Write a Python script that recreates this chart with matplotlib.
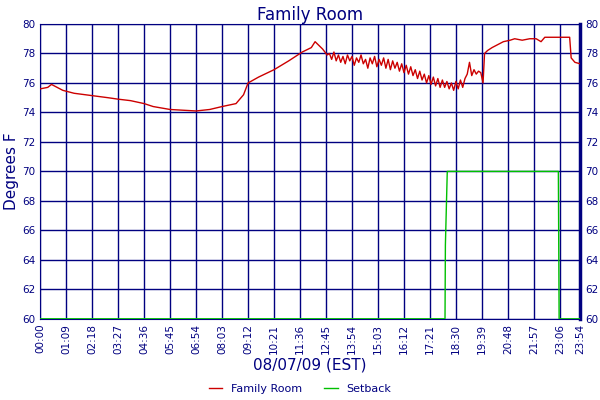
import matplotlib
matplotlib.use("Agg")
import matplotlib.pyplot as plt
import numpy as np

NAVY = "#000080"

# Family Room temperature (minutes since midnight, deg F)
room_t_start = [0, 20, 30, 45, 60, 90, 120, 150, 180, 207, 240, 276, 300, 345, 414, 450, 483,
                520, 540, 552, 580, 621, 660, 696, 720, 730, 750, 762]
room_v_start = [75.6, 75.7, 75.9, 75.7, 75.5, 75.3, 75.2, 75.1, 75.0, 74.9, 74.8, 74.6, 74.4,
                74.2, 74.1, 74.2, 74.4, 74.6, 75.2, 76.0, 76.4, 76.9, 77.5, 78.1, 78.4, 78.8,
                78.3, 77.9]
room_v_noisy = [78.0, 77.6, 78.1, 77.5, 77.9, 77.4, 77.8, 77.3, 77.9, 77.5,
                77.8, 77.2, 77.7, 77.4, 77.9, 77.3, 77.6, 77.0, 77.7, 77.3,
                77.8, 77.1, 77.6, 77.2, 77.7, 77.0, 77.6, 76.9, 77.5, 77.0,
                77.4, 76.8, 77.3, 76.7, 77.2, 76.6, 77.1, 76.5, 76.9, 76.3,
                76.8, 76.2, 76.6, 76.0, 76.5, 75.9, 76.4, 75.8, 76.3, 75.7,
                76.2, 75.7, 76.1, 75.6, 76.0, 75.5, 76.1, 75.6, 76.2, 75.7,
                76.3, 76.6, 77.4, 76.5, 76.9, 76.6, 76.8, 76.7, 76.0]
room_t_end = [1180, 1188, 1200, 1215, 1230, 1248, 1260, 1280, 1300, 1317, 1330, 1340, 1360,
              1386, 1406, 1410, 1420, 1434]
room_v_end = [78.0, 78.2, 78.4, 78.6, 78.8, 78.9, 79.0, 78.9, 79.0, 79.0, 78.8, 79.1, 79.1,
              79.1, 79.1, 77.7, 77.4, 77.3]

# Setback (minutes, deg F)
setback_t = [0, 1075, 1076, 1081, 1376, 1377, 1378, 1434]
setback_v = [60, 60, 65, 70, 70, 65, 60, 60]

room_t = room_t_start + list(range(768, 1177, 6)) + room_t_end
room_v = room_v_start + room_v_noisy + room_v_end

tick_mins = list(range(0, 1381, 69)) + [1434]
tick_labels = ["00:00", "01:09", "02:18", "03:27", "04:36", "05:45", "06:54", "08:03",
               "09:12", "10:21", "11:36", "12:45", "13:54", "15:03", "16:12", "17:21",
               "18:30", "19:39", "20:48", "21:57", "23:06", "23:54"]

fig, ax = plt.subplots(figsize=(6, 4), dpi=100)
fig.subplots_adjust(left=0.067, right=0.967, top=0.94, bottom=0.203)

ax.plot(setback_t, setback_v, color="#00c000", lw=1, zorder=3)
ax.plot(room_t, room_v, color="#cc0000", lw=1, zorder=4)

ax.set_xlim(0, 1434)
ax.set_ylim(60, 80)
ax.set_xticks(tick_mins)
ax.set_xticklabels(tick_labels, rotation=90, fontsize=7.5, color=NAVY)
ax.set_yticks(range(60, 81, 2))
ax.tick_params(axis="y", labelsize=7.5, labelcolor=NAVY, right=True, labelright=True, length=0)
ax.tick_params(axis="x", length=0)
ax.grid(True, color=NAVY, lw=1)
for s in ax.spines.values():
    s.set_color(NAVY)
ax.spines["right"].set_linewidth(2.5)

ax.set_title("Family Room", color=NAVY, fontsize=12, pad=3)
ax.set_ylabel("Degrees F", color=NAVY, fontsize=11, labelpad=2)
ax.set_xlabel("08/07/09 (EST)", color=NAVY, fontsize=11, labelpad=3)

leg = fig.legend(["Family Room", "Setback"], loc="lower center", ncol=2, frameon=False,
                 fontsize=8, handlelength=1.2, bbox_to_anchor=(0.5, -0.01))
leg.get_lines()[0].set_color("#cc0000")
leg.get_lines()[1].set_color("#00c000")
for t in leg.get_texts():
    t.set_color(NAVY)

fig.savefig("out.png", dpi=100)
